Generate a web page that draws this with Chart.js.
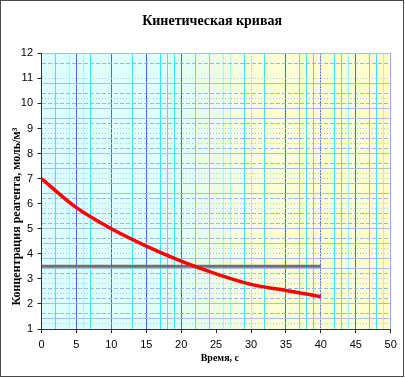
<!DOCTYPE html>
<html><head><meta charset="utf-8">
<script src="https://cdn.jsdelivr.net/npm/chart.js@4/dist/chart.umd.min.js"></script>
<style>
html,body{margin:0;padding:0;background:#fff;}
#wrap{position:relative;width:405px;height:378px;overflow:hidden;}
#frame{position:absolute;left:0;top:0;width:404px;height:377px;box-sizing:border-box;border:1px solid #4a4a4a;pointer-events:none;}
canvas{position:absolute;left:0;top:0;}
</style></head><body>
<div id="wrap"><canvas id="c" width="405" height="378"></canvas><div id="frame"></div></div>
<script>
// ---- data ----
const timeS = [0, 5, 10, 15, 20, 25, 30, 35, 40];
const concentration = [7.0, 5.84, 5.0, 4.31, 3.71, 3.2, 2.78, 2.54, 2.29];
const levelX = [0, 40];
const levelY = [3.5, 3.5];
const xTickLabels = [0, 5, 10, 15, 20, 25, 30, 35, 40, 45, 50];
const yTickLabels = [1, 2, 3, 4, 5, 6, 7, 8, 9, 10, 11, 12];

// ---- grid tick positions and styles ----
const xGridStep = 1, yGridStep = 0.2;
const xGridTicks = [];
for (let v = 0; v <= 50; v += xGridStep) xGridTicks.push(v);
const yGridTicks = [];
for (let i = 0; i <= 55; i++) yGridTicks.push(Math.round((1 + i * yGridStep) * 10) / 10);
// vertical line style per x = 0..50
const vCodes = ['-','-','c','-','L','B','L','c','-','-','B','-','-','c','-','B','-','c','c','c','B','-','c','-','c','-','L','L','-','c','g','-','c','-','-','B','-','c','c','c','D','-','c','c','L','B','-','c','c','L','S'];
// horizontal line style per y = 1.0..12.0 step 0.2
const hCodes = ("-" + "osd-sdodoods-so" + "osd-sdodoods-so" + "osd-sdodoods-" + "sdod-so--d-s").split('');

const vColor = {'-':'rgba(0,0,0,0)', c:'#30eaff', L:'#a0f6ff', B:'#4a66f0', D:'#4a66f0', g:'#9a9ab8', S:'#8fb0ff'};
const vDash = {'-':[], c:[], L:[], B:[], D:[2,1], g:[1,2], S:[]};
const hColor = {'-':'rgba(0,0,0,0)', s:'#a2bff4', d:'#90b6ff', o:'#9cc6ff'};
const hDash = {'-':[], s:[], d:[4,2], o:[1,2]};

function isInt(v){ return Math.abs(v - Math.round(v)) < 1e-6; }
function xIdx(ctx){ return ctx.tick ? Math.round(ctx.tick.value) : -1; }
function yIdx(ctx){ return ctx.tick ? Math.round((ctx.tick.value - 1) / yGridStep) : -1; }

const bgPlugin = {
  id: 'plotBg',
  beforeDraw(chart) {
    const a = chart.chartArea, c = chart.ctx;
    const g = c.createLinearGradient(a.left, 0, a.right, 0);
    g.addColorStop(0, '#dcffff');
    g.addColorStop(0.35, '#e0fffa');
    g.addColorStop(0.5, '#eaffe6');
    g.addColorStop(0.62, '#fcffd6');
    g.addColorStop(1, '#ffffcc');
    c.save();
    c.fillStyle = g;
    c.fillRect(a.left, a.top, a.right - a.left, a.bottom - a.top);
    c.restore();
  }
};

const nb = '\u00A0';
new Chart(document.getElementById('c'), {
  type: 'line',
  data: {
    datasets: [
      {
        data: timeS.map((t, i) => ({x: t, y: concentration[i]})),
        borderColor: '#ff0000', borderWidth: 3.5, pointRadius: 0,
        cubicInterpolationMode: 'monotone', order: 0
      },
      {
        data: levelX.map((t, i) => ({x: t, y: levelY[i]})),
        borderColor: '#707070', borderWidth: 3, pointRadius: 0, order: 1
      }
    ]
  },
  options: {
    responsive: false,
    animation: false,
    events: [],
    layout: {padding: {left: 2, right: 14.3, top: 0, bottom: 8}},
    plugins: {
      legend: {display: false},
      tooltip: {enabled: false},
      title: {
        display: true,
        text: nb.repeat(9) + 'Кинетическая кривая',
        color: '#000',
        font: {family: 'Liberation Serif', size: 14, weight: 'bold'},
        padding: {top: 13, bottom: 23.5}
      }
    },
    scales: {
      x: {
        type: 'linear', min: 0, max: 50,
        afterBuildTicks: s => { s.ticks = xGridTicks.map(v => ({value: v})); },
        afterFit: s => { s.height = 41; },
        ticks: {
          autoSkip: false, maxRotation: 0, minRotation: 0, padding: 5,
          color: '#000', font: {family: 'Liberation Sans', size: 11},
          callback: v => xTickLabels.includes(Math.round(v)) && isInt(v) ? String(Math.round(v)) : ''
        },
        grid: {
          lineWidth: 1, tickLength: 4,
          color: ctx => { const i = xIdx(ctx); return i >= 0 ? vColor[vCodes[i]] : 'rgba(0,0,0,0)'; },
          tickColor: ctx => (ctx.tick && Math.round(ctx.tick.value) % 5 === 0) ? '#222' : 'rgba(0,0,0,0)'
        },
        border: {
          color: '#333', width: 1,
          dash: ctx => { const i = xIdx(ctx); return i >= 0 ? vDash[vCodes[i]] : []; }
        },
        title: {
          display: true, text: nb.repeat(3) + 'Время, с', color: '#000',
          font: {family: 'Liberation Serif', size: 10, weight: 'bold'},
          padding: {top: 0, bottom: 6}
        }
      },
      y: {
        type: 'linear', position: 'left', min: 1, max: 12,
        afterBuildTicks: s => { s.ticks = yGridTicks.map(v => ({value: v})); },
        afterFit: s => { s.width = 39.5; },
        ticks: {
          autoSkip: false, padding: 4.5,
          color: '#000', font: {family: 'Liberation Sans', size: 11},
          callback: v => (isInt(v) && yTickLabels.includes(Math.round(v))) ? String(Math.round(v)) : ''
        },
        grid: {
          lineWidth: 1, tickLength: 4,
          color: ctx => { const i = yIdx(ctx); return i >= 0 ? hColor[hCodes[i]] : 'rgba(0,0,0,0)'; },
          tickColor: ctx => (ctx.tick && isInt(ctx.tick.value)) ? '#222' : 'rgba(0,0,0,0)'
        },
        border: {
          color: '#333', width: 1,
          dash: ctx => { const i = yIdx(ctx); return i >= 0 ? hDash[hCodes[i]] : []; }
        },
        title: {
          display: true, text: 'Концентрация реагента, моль/м³' + nb.repeat(17), color: '#000',
          font: {family: 'Liberation Serif', size: 12, weight: 'bold'},
          padding: {top: 7.8, bottom: 0}
        }
      }
    }
  },
  plugins: [bgPlugin]
});
</script>
</body></html>
